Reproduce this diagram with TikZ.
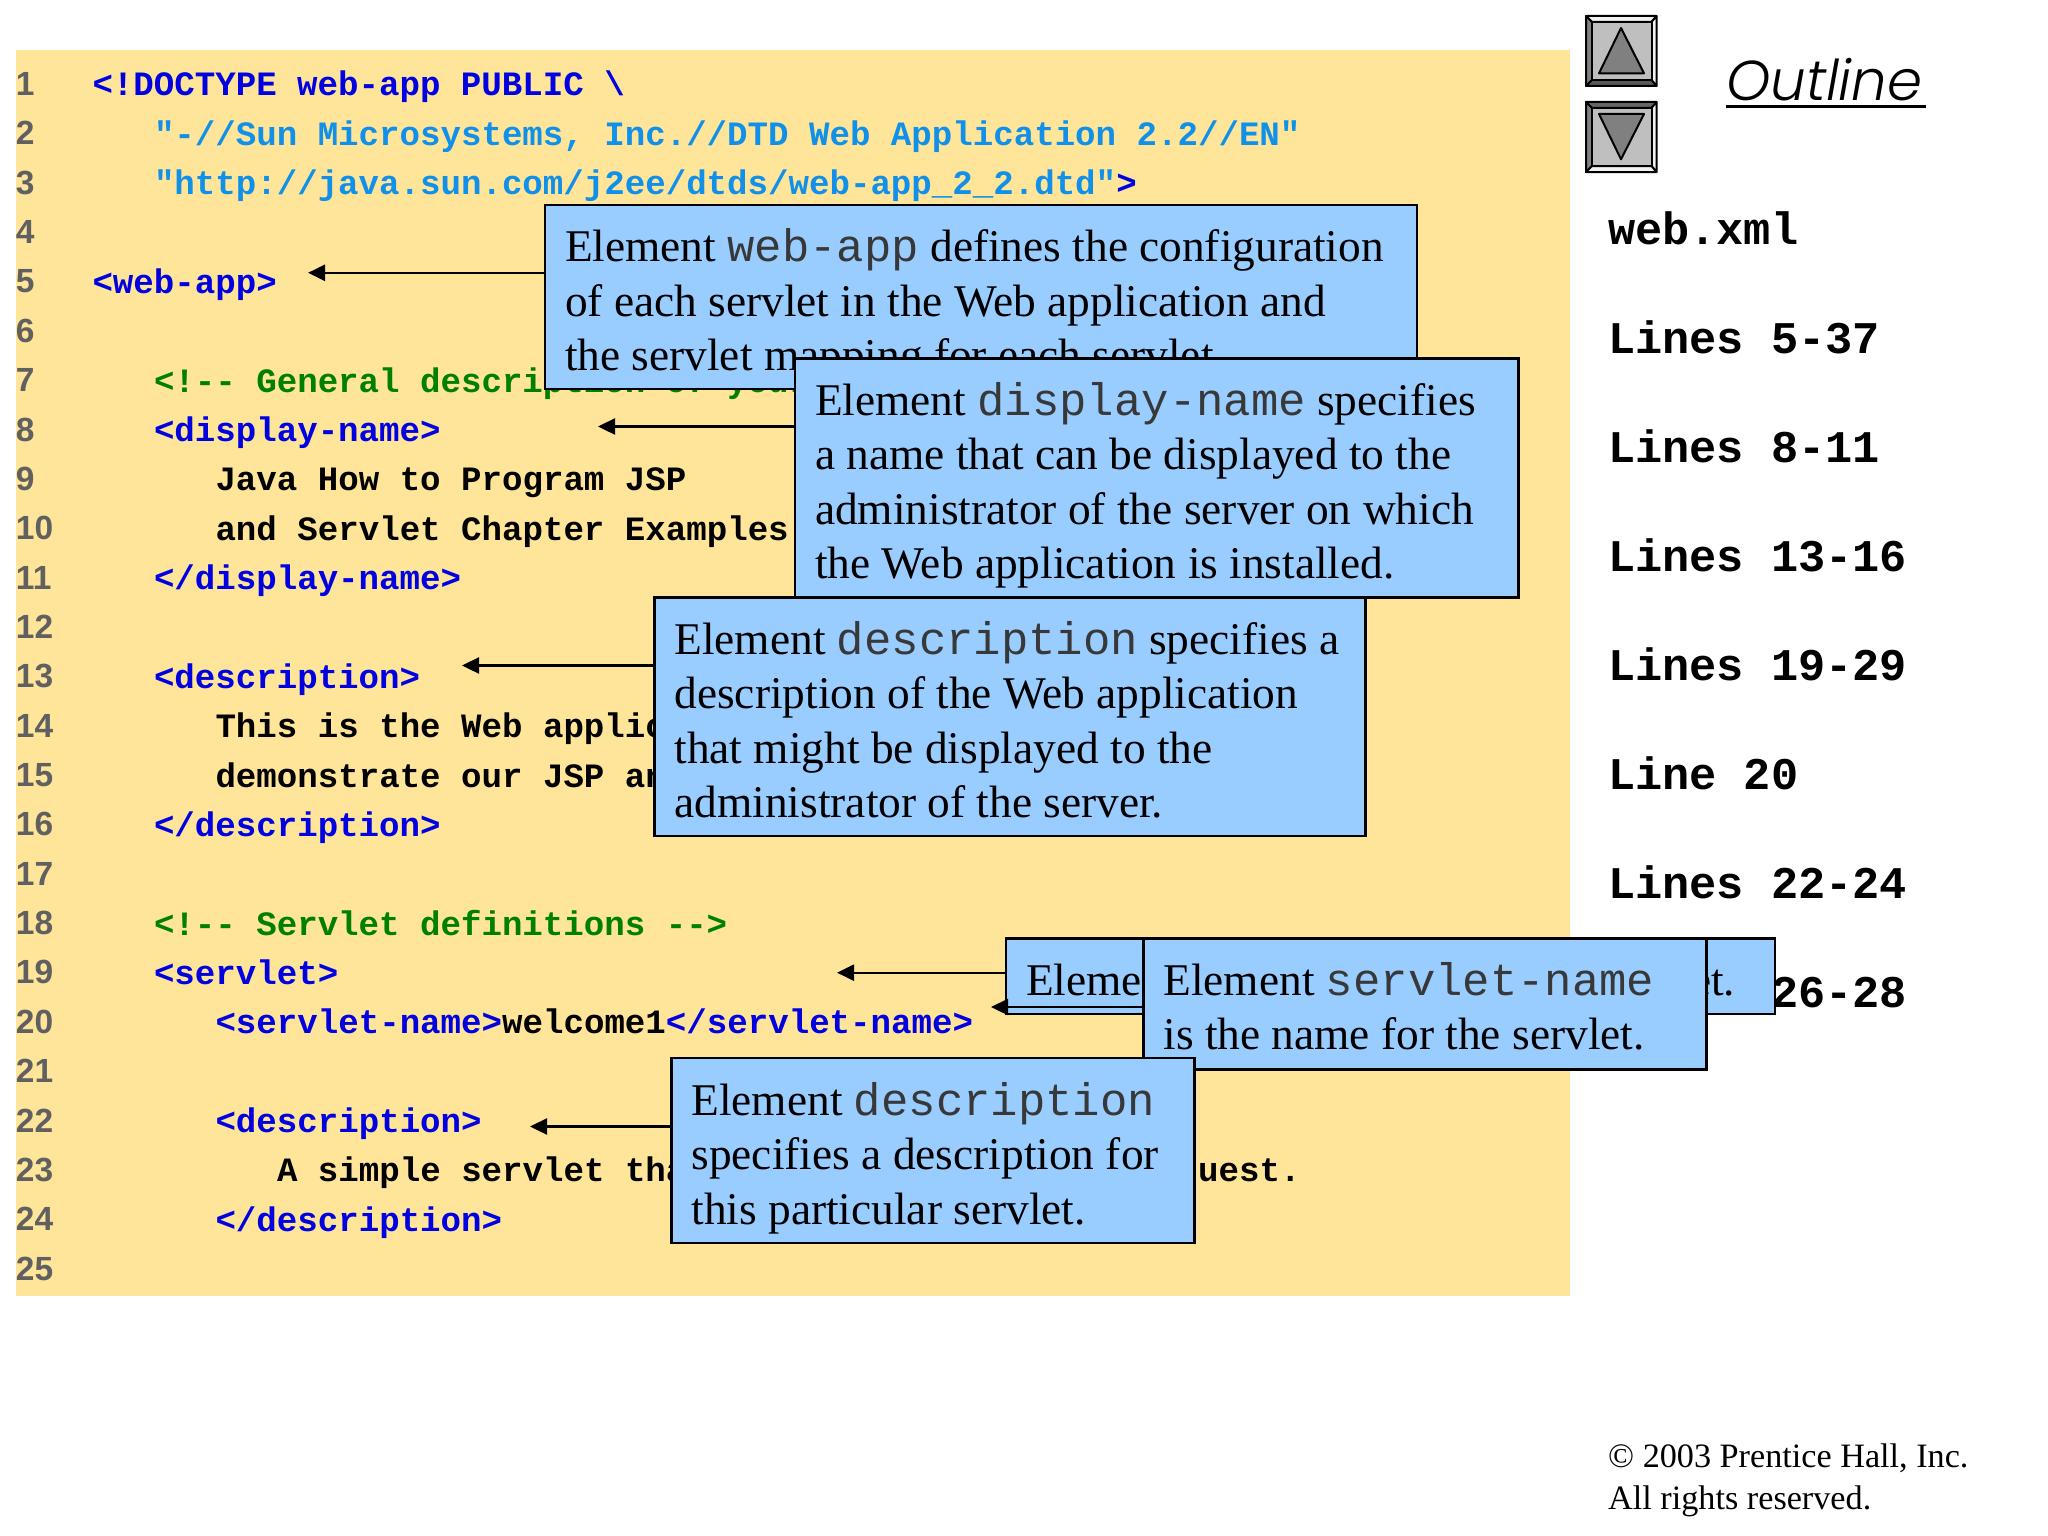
\documentclass[tikz,border=0pt]{standalone}
\usepackage{fontspec}
\usetikzlibrary{arrows.meta}
\setmainfont{Liberation Serif}
\newfontfamily\codefont[Ligatures=NoCommon]{Liberation Mono}
\newfontfamily\numfont{Liberation Sans}
\newfontfamily\outfont[ItalicFont={Poppins Light Italic}]{Poppins Light}
\definecolor{panel}{HTML}{FFE599}
\definecolor{boxblue}{HTML}{99CCFF}
\definecolor{tagblue}{HTML}{0000E0}
\definecolor{strblue}{HTML}{1090E8}
\definecolor{cmtgreen}{HTML}{008000}
\definecolor{numgray}{HTML}{606060}
\newcommand{\cb}[1]{\textcolor{tagblue}{#1}}
\newcommand{\cs}[1]{\textcolor{strblue}{#1}}
\newcommand{\mo}[1]{{\fontsize{45.6}{54.6}\selectfont\codefont\textcolor{black!78}{#1}}}
\newcommand{\ytop}[1]{\rule{0pt}{#1pt}}
\newcommand{\ybot}[1]{\rule[-#1pt]{0pt}{0pt}}
\tikzset{
  x=1pt,y=-1pt,
  codeline/.style={anchor=base west,inner sep=0pt,outer sep=0pt,font=\fontsize{34.12}{40}\selectfont\codefont\bfseries},
  numline/.style={anchor=base west,inner sep=0pt,outer sep=0pt,text=numgray,font=\fontsize{33.5}{40}\selectfont\numfont\bfseries},
  sideline/.style={anchor=base west,inner sep=0pt,outer sep=0pt,font=\fontsize{45.3}{50}\selectfont\codefont\bfseries},
  callout/.style={draw=black,line width=2.4pt,fill=boxblue,anchor=north west,inner xsep=20pt,inner ysep=0pt,outer sep=0pt,align=flush left,font=\fontsize{45.36}{54.6}\selectfont},
  pointer/.style={line width=2.4pt,-{Triangle[length=17pt,width=16pt]}},
  bevel/.style={draw=black,line width=2pt,line join=round},
}
\begin{document}
\begin{tikzpicture}
\useasboundingbox (0,0) rectangle (2048,1536);
\fill[white] (0,0) rectangle (2048,1536);
\fill[panel] (16,50.5) rectangle (1570,1296);

% line numbers
\foreach \i in {1,...,25}{
  \pgfmathsetmacro{\yy}{95.5+(\i-1)*49.36}
  \node[numline] (n\i) at (16,\yy) {\i};
}
% code lines
\node[codeline,text=tagblue] (c1) at (92.5,96) {<!DOCTYPE web-app PUBLIC \textbackslash};
\node[codeline,text=strblue] (c2) at (154,145.4) {"-//Sun Microsystems, Inc.//DTD Web Application 2.2//EN"};
\node[codeline] (c3) at (154,194.7) {\cs{"http://java.sun.com/j2ee/dtds/web-app\_2\_2.dtd"}\cb{>}};
\node[codeline,text=tagblue] (c5) at (92.5,293.4) {<web-app>};
\node[codeline,text=cmtgreen] (c7) at (154,392.2) {<!-- General description of your Web application -->};
\node[codeline,text=tagblue] (c8) at (154,441.5) {<display-name>};
\node[codeline] (c9) at (215.5,490.9) {Java How to Program JSP};
\node[codeline] (c10) at (215.5,540.2) {and Servlet Chapter Examples};
\node[codeline,text=tagblue] (c11) at (154,589.6) {</display-name>};
\node[codeline,text=tagblue] (c13) at (154,688.3) {<description>};
\node[codeline] (c14) at (215.5,737.7) {This is the Web application in which we};
\node[codeline] (c15) at (215.5,787) {demonstrate our JSP and Servlet examples.};
\node[codeline,text=tagblue] (c16) at (154,836.4) {</description>};
\node[codeline,text=cmtgreen] (c18) at (154,935.1) {<!-- Servlet definitions -->};
\node[codeline,text=tagblue] (c19) at (154,984.5) {<servlet>};
\node[codeline] (c20) at (215.5,1033.8) {\cb{<servlet-name>}welcome1\cb{</servlet-name>}};
\node[codeline,text=tagblue] (c22) at (215.5,1132.6) {<description>};
\node[codeline] (c23) at (277,1181.9) {A simple servlet that handles an HTTP get request.};
\node[codeline,text=tagblue] (c24) at (215.5,1231.3) {</description>};

% right column
\node[anchor=base west,inner sep=0pt,font=\fontsize{56.2}{60}\selectfont\outfont\itshape] (outline) at (1726,101) {Outline};
\draw[line width=3pt] (1726,106.3) -- (1926,106.3);
\node[sideline] (s0) at (1608,244.4) {web.xml};
\node[sideline] (s1) at (1608,353) {Lines 5-37};
\node[sideline] (s2) at (1608,462) {Lines 8-11};
\node[sideline] (s3) at (1608,571.5) {Lines 13-16};
\node[sideline] (s4) at (1608,680) {Lines 19-29};
\node[sideline] (s5) at (1608,789.5) {Line 20};
\node[sideline] (s6) at (1608,898) {Lines 22-24};
\node[sideline] (s7) at (1608,1007.5) {Lines 26-28};

% buttons
\begin{scope}
  \draw[bevel,fill=black!5] (1586,16) -- (1656.5,16) -- (1651.5,22) -- (1592,22) -- cycle;
  \draw[bevel,fill=gray] (1586,16) -- (1592,22) -- (1592,80) -- (1586,86) -- cycle;
  \draw[bevel,fill=black!5] (1656.5,16) -- (1651.5,22) -- (1651.5,80) -- (1656.5,86) -- cycle;
  \draw[bevel,fill=black!65] (1586,86) -- (1592,80) -- (1651.5,80) -- (1656.5,86) -- cycle;
  \draw[bevel,fill=black!25] (1592,22) rectangle (1651.5,80);
  \draw[bevel,fill=black!50] (1621,28) -- (1644,73.3) -- (1599,73.3) -- cycle;
  \draw[bevel,fill=black!60] (1586,102) -- (1656.5,102) -- (1651.5,108) -- (1592,108) -- cycle;
  \draw[bevel,fill=gray] (1586,102) -- (1592,108) -- (1592,166) -- (1586,172) -- cycle;
  \draw[bevel,fill=black!5] (1656.5,102) -- (1651.5,108) -- (1651.5,166) -- (1656.5,172) -- cycle;
  \draw[bevel,fill=black!5] (1586,172) -- (1592,166) -- (1651.5,166) -- (1656.5,172) -- cycle;
  \draw[bevel,fill=black!25] (1592,108) rectangle (1651.5,166);
  \draw[bevel,fill=black!50] (1599,114) -- (1644,114) -- (1621,159.3) -- cycle;
\end{scope}

% footer
\node[anchor=base west,inner sep=0pt,align=left,font=\fontsize{34.2}{42}\selectfont] (foot1) at (1608,1467) {\textcopyright{} 2003 Prentice Hall, Inc.};
\node[anchor=base west,inner sep=0pt,align=left,font=\fontsize{34.2}{42}\selectfont] (foot2) at (1608,1509) {All rights reserved.};

% callouts
\coordinate (t1) at (308,272.8);
\node[callout,text width=832pt] (b1) at (545,205) {\ytop{56.5}Element \mo{web-app} defines the configuration\\of each servlet in the Web application and\\the servlet mapping for each servlet.\ybot{18.3}};
\draw[pointer] (b1.west |- t1) -- (t1);

\coordinate (t2) at (598,426.5);
\node[callout,text width=683.5pt] (b2) at (795,358.5) {\ytop{56.5}Element \mo{display-name} specifies\\a name that can be displayed to the\\administrator of the server on which\\the Web application is installed.\ybot{18.5}};
\draw[pointer] (b2.west |- t2) -- (t2);

\coordinate (t3) at (462,665.5);
\node[callout,text width=671pt] (b3) at (654.5,597.5) {\ytop{56.5}Element \mo{description} specifies a\\description of the Web application\\that might be displayed to the\\administrator of the server.\ybot{18}};
\draw[pointer] (b3.west |- t3) -- (t3);

\coordinate (t4) at (837,972.7);
\node[callout,text width=729pt] (b4) at (1006,938.4) {\ytop{56.6}Element \mo{servlet} describes a servlet.\ybot{19}};
\draw[pointer] (b4.west |- t4) -- (t4);

\coordinate (t5) at (991,1007);
\node[callout,text width=523pt] (b5) at (1143.5,938.4) {\ytop{56.6}Element \mo{servlet-name}\\is the name for the servlet.\ybot{19.7}};
\draw[pointer] (b5.west |- t5) -- (t5);

\coordinate (t6) at (530,1126.5);
\node[callout,text width=483pt] (b6) at (671.5,1058) {\ytop{57}Element \mo{description}\\specifies a description for\\this particular servlet.\ybot{18.5}};
\draw[pointer] (b6.west |- t6) -- (t6);
\end{tikzpicture}
\end{document}
